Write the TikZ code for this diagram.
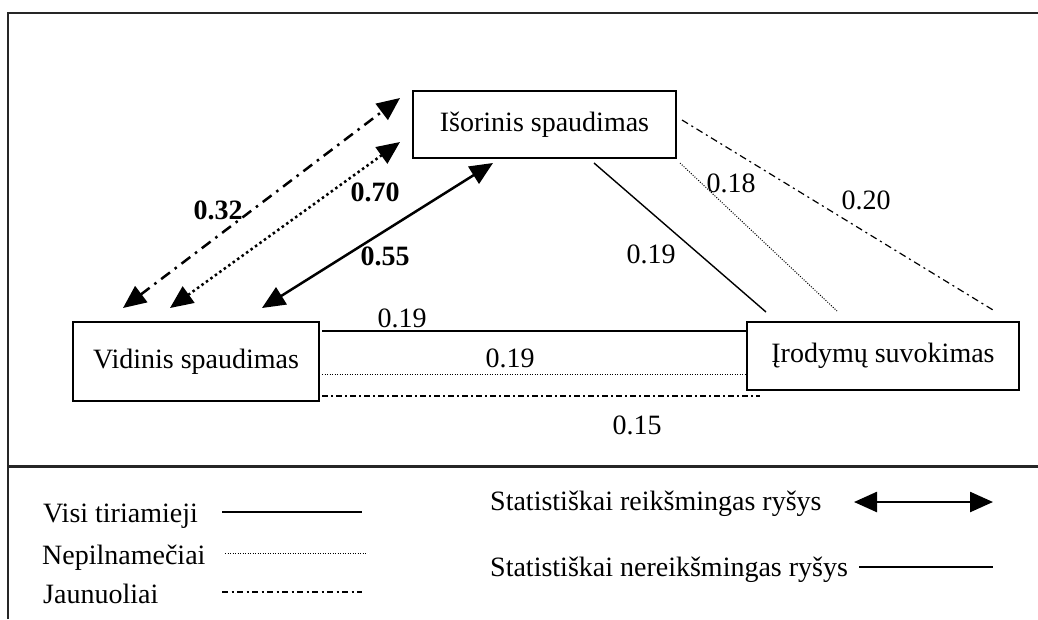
\documentclass[tikz,border=0pt]{standalone}
\usepackage{fontspec}
\setmainfont{Liberation Serif}
\usetikzlibrary{arrows.meta}
\begin{document}
\begin{tikzpicture}[x=1pt,y=-1pt,
  txt/.style={font=\fontsize{28}{32}\selectfont, inner sep=0pt},
  btxt/.style={font=\fontsize{28}{32}\selectfont\bfseries, inner sep=0pt},
  box/.style={draw, line width=1.5pt, txt, inner sep=0pt},
  frame/.style={line width=2.2pt, black!85},
  sep/.style={line width=3pt, black!85},
  tip/.style={},
  sigarrow/.style={line width=2.5pt, {Triangle[length=23pt,width=20pt]}-{Triangle[length=23pt,width=20pt]}},
  bdashdot/.style={dash pattern=on 11pt off 6pt on 2.5pt off 6pt},
  bdotted/.style={dash pattern=on 2.5pt off 3pt},
  thinsolid/.style={line width=1.4pt},
  thindot/.style={line width=1pt, dash pattern=on 1pt off 1.5pt},
  thindashdot/.style={line width=1.2pt, dash pattern=on 7pt off 4pt on 2pt off 4pt},
  legdashdot/.style={line width=1.4pt, dash pattern=on 6pt off 3.5pt on 2pt off 3.5pt}
]
\useasboundingbox (0,0) rectangle (1038,619);
\fill[white] (0,0) rectangle (1038,619);

% outer frame and separator
\coordinate (fbl) at (8,619);
\coordinate (ftl) at (8,13);
\coordinate (ftr) at (1038,13);
\draw[frame] (fbl) -- (ftl) -- (ftr);
\coordinate (sl) at (8,466);
\coordinate (sr) at (1038,466);
\draw[sep] (sl) -- (sr);

% boxes
\node[box, minimum width=246pt, minimum height=79pt] (v) at (196,361.5) {Vidinis spaudimas};
\node[box, minimum width=263pt, minimum height=67pt] (o) at (544.5,124.5) {Išorinis spaudimas};
\node[box, minimum width=272pt, minimum height=68pt] (r) at (883,356) {Įrodymų suvokimas};

% significant double arrows
\coordinate (a1s) at (123,308); \coordinate (a1e) at (400,98);
\coordinate (a2s) at (170,308); \coordinate (a2e) at (400,142);
\coordinate (a3s) at (262,308); \coordinate (a3e) at (493,163);
\draw[sigarrow, bdashdot] (a1s) -- (a1e);
\draw[sigarrow, bdotted] (a2s) -- (a2e);
\draw[sigarrow] (a3s) -- (a3e);
\node[btxt] (l32) at (218,210) {0.32};
\node[btxt] (l70) at (375,192) {0.70};
\node[btxt] (l55) at (385,256) {0.55};

% right diagonals
\coordinate (d1s) at (594,163); \coordinate (d1e) at (766,312);
\coordinate (d2s) at (680,163); \coordinate (d2e) at (837,311);
\coordinate (d3s) at (682,120); \coordinate (d3e) at (993,310);
\draw[thinsolid] (d1s) -- (d1e);
\draw[thindot] (d2s) -- (d2e);
\draw[thindashdot] (d3s) -- (d3e);
\node[txt] (l19a) at (651,254) {0.19};
\node[txt] (l18) at (731,183) {0.18};
\node[txt] (l20) at (866,200) {0.20};

% horizontal lines
\coordinate (h1s) at (322,331); \coordinate (h1e) at (747,331);
\coordinate (h2s) at (322,374); \coordinate (h2e) at (747,374);
\coordinate (h3s) at (322,396); \coordinate (h3e) at (760,396);
\draw[thinsolid] (h1s) -- (h1e);
\draw[thindot] (h2s) -- (h2e);
\draw[thindashdot, dash pattern=on 6pt off 3pt on 2pt off 3pt] (h3s) -- (h3e);
\node[txt] (l19b) at (402,318) {0.19};
\node[txt] (l19c) at (510,358) {0.19};
\node[txt] (l15) at (637,425) {0.15};

% legend left
\node[txt, anchor=base west] (g1) at (43,522) {Visi tiriamieji};
\node[txt, anchor=base west] (g2) at (42,564) {Nepilnamečiai};
\node[txt, anchor=base west] (g3) at (43,603) {Jaunuoliai};
\coordinate (g1s) at (222,512); \coordinate (g1e) at (362,512);
\coordinate (g2s) at (225,553); \coordinate (g2e) at (367,553);
\coordinate (g3s) at (222,592); \coordinate (g3e) at (362,592);
\draw[thinsolid] (g1s) -- (g1e);
\draw[thindot] (g2s) -- (g2e);
\draw[legdashdot] (g3s) -- (g3e);

% legend right
\node[txt, anchor=base west] (g4) at (490,510) {Statistiškai reikšmingas ryšys};
\node[txt, anchor=base west] (g5) at (490,576) {Statistiškai nereikšmingas ryšys};
\coordinate (g4s) at (854,502); \coordinate (g4e) at (993,502);
\coordinate (g5s) at (859,567); \coordinate (g5e) at (993,567);
\draw[sigarrow] (g4s) -- (g4e);
\draw[thinsolid] (g5s) -- (g5e);
\end{tikzpicture}
\end{document}
